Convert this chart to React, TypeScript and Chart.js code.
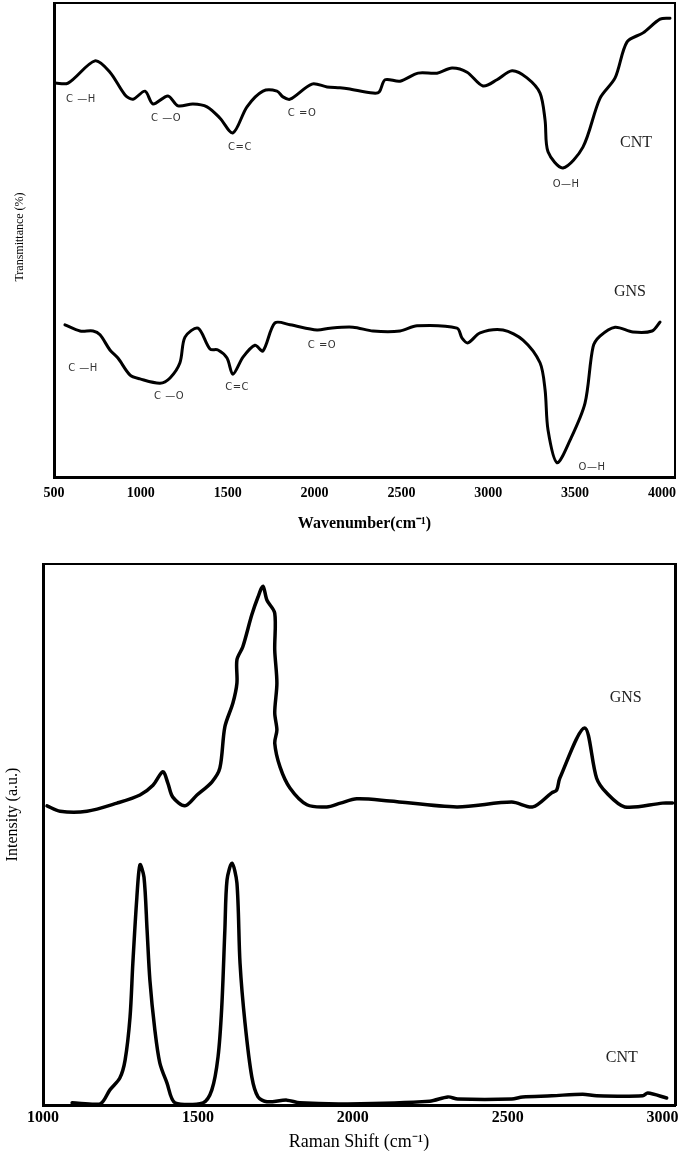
import React, { useEffect, useRef } from 'react';
import { Chart, registerables } from 'chart.js';

Chart.register(...registerables);

// ---------- FTIR (top) ----------
const ftirCntX = [506, 581, 736, 822, 909, 955, 1024, 1070, 1156, 1214, 1300, 1381, 1456, 1530, 1611, 1703, 1784, 1818, 1859, 1985, 2072, 2146, 2193, 2337, 2372, 2406, 2492, 2596, 2705, 2791, 2878, 2970, 3050, 3137, 3223, 3298, 3327, 3344, 3430, 3545, 3643, 3730, 3799, 3891, 3989, 4046];
const ftirCntY = [83.1, 83.1, 87.8, 85.4, 80.6, 79.7, 81.4, 78.7, 80.4, 78.3, 78.7, 78.1, 75.7, 72.6, 78.1, 81.4, 81.4, 80.2, 79.7, 82.9, 82.3, 82.1, 81.9, 81.0, 81.2, 83.8, 83.5, 85.2, 85.2, 86.3, 85.4, 82.5, 83.8, 85.7, 84.2, 81.0, 75.3, 68.6, 65.2, 69.6, 79.9, 84.2, 91.8, 93.7, 96.6, 96.8];

const ftirGnsX = [563, 650, 725, 765, 822, 868, 938, 995, 1110, 1168, 1225, 1254, 1329, 1398, 1444, 1496, 1530, 1588, 1657, 1703, 1772, 1859, 2014, 2089, 2221, 2337, 2492, 2590, 2820, 2849, 2883, 2953, 3085, 3200, 3298, 3327, 3344, 3396, 3471, 3557, 3603, 3643, 3730, 3833, 3943, 3989];
const ftirGnsY = [32.1, 30.8, 30.8, 30.0, 26.8, 25.1, 21.5, 20.7, 19.8, 20.9, 24.1, 29.5, 31.4, 27.0, 26.8, 25.1, 21.7, 25.3, 27.8, 26.6, 32.5, 32.1, 31.0, 31.4, 31.6, 30.8, 30.8, 31.9, 31.4, 29.3, 28.3, 30.4, 31.0, 28.9, 24.1, 18.4, 9.9, 3.0, 7.8, 15.6, 27.4, 29.7, 31.6, 30.6, 30.8, 32.7];

const ftirTickValues = [500, 1000, 1500, 2000, 2500, 3000, 3500, 4000];

const ftirBandText = ['C —H', 'C —O', 'C=C', 'C =O', 'O—H', 'C —H', 'C —O', 'C=C', 'C =O', 'O—H'];
const ftirBandX = [655, 1145, 1571, 1928, 3448, 667, 1162, 1554, 2043, 3597];
const ftirBandY = [79.7, 75.7, 69.6, 76.8, 61.8, 23.0, 16.9, 19.0, 27.8, 2.1];

const ftirSampleText = ['CNT', 'GNS'];
const ftirSampleX = [3851, 3816];
const ftirSampleY = [70.5, 39.0];

// ---------- Raman (bottom) ----------
const ramanGnsX = [1013, 1055, 1142, 1239, 1313, 1355, 1387, 1403, 1419, 1458, 1497, 1545, 1571, 1587, 1613, 1626, 1626, 1645, 1674, 1694, 1710, 1723, 1748, 1748, 1755, 1748, 1755, 1748, 1765, 1797, 1852, 1916, 1960, 2013, 2119, 2336, 2513, 2581, 2642, 2658, 2668, 2748, 2787, 2819, 2878, 3000, 3032];
const ramanGnsY = [55.3, 54.3, 54.3, 55.8, 57.3, 59.1, 61.6, 59.5, 56.9, 55.3, 57.3, 59.7, 62.3, 69.9, 74.3, 78.0, 82.3, 84.7, 90.6, 93.9, 95.9, 93.3, 90.9, 84.1, 78.0, 72.5, 69.3, 66.9, 62.5, 58.6, 55.5, 55.1, 55.8, 56.6, 56.2, 55.1, 56.0, 55.1, 57.7, 58.2, 60.4, 69.7, 60.4, 57.7, 55.1, 55.8, 55.8];

const ramanCntX = [1094, 1184, 1216, 1248, 1265, 1281, 1290, 1303, 1313, 1326, 1336, 1345, 1361, 1377, 1400, 1426, 1516, 1545, 1565, 1577, 1587, 1594, 1610, 1626, 1636, 1652, 1674, 1694, 1723, 1787, 1829, 1984, 2248, 2307, 2339, 2513, 2548, 2642, 2742, 2787, 2936, 2952, 3013];
const ramanCntY = [0.4, 0.2, 2.8, 5.0, 8.3, 16.3, 26.2, 38.4, 44.4, 42.1, 32.3, 23.1, 13.9, 7.8, 4.1, 0.4, 0.4, 2.8, 8.9, 18.1, 32.3, 41.6, 44.7, 41.0, 26.2, 15.2, 5.2, 1.5, 0.6, 0.9, 0.4, 0.2, 0.7, 1.5, 1.1, 1.1, 1.5, 1.7, 2.0, 1.7, 1.7, 2.2, 1.3];

const ramanTickValues = [1000, 1500, 2000, 2500, 3000];

const ramanSampleText = ['GNS', 'CNT'];
const ramanSampleX = [2881, 2868];
const ramanSampleY = [75.2, 8.7];

const SERIF = '"Liberation Serif", "Times New Roman", serif';

type Label = { text: string; x: number; y: number; font: string; color: string; spacing: string };

function zip(xs: number[], ys: number[]) {
  return xs.map((x, i) => ({ x, y: ys[i] }));
}

function makeLabels(texts: string[], xs: number[], ys: number[], font: string, color: string, spacing: string): Label[] {
  return texts.map((t, i) => ({ text: t, x: xs[i], y: ys[i], font, color, spacing }));
}

function textPlugin(labels: Label[]) {
  return {
    id: 'sampleText',
    afterDatasetsDraw(chart: any) {
      const { ctx, scales } = chart;
      ctx.save();
      for (const l of labels) {
        ctx.font = l.font;
        ctx.fillStyle = l.color;
        ctx.textAlign = 'center';
        ctx.textBaseline = 'middle';
        try { (ctx as any).letterSpacing = l.spacing; } catch (e) {}
        ctx.fillText(l.text, scales.x.getPixelForValue(l.x), scales.y.getPixelForValue(l.y));
      }
      ctx.restore();
    },
  };
}

function frameAxes(opts: {
  xMin: number; xMax: number; ticks: number[]; tickFont: any; tickPad: number;
  xTitle: string; xTitleFont: any; xTitlePad: number; xHeight: number;
  yTitle: string; yTitleFont: any; yTitlePad: number; yWidth: number;
  leftW: number; bottomW: number; topW: number; rightW: number;
}) {
  return {
    x: {
      type: 'linear', position: 'bottom', min: opts.xMin, max: opts.xMax,
      afterBuildTicks: (s: any) => { s.ticks = opts.ticks.map((v) => ({ value: v })); },
      ticks: { font: opts.tickFont, color: '#000', padding: opts.tickPad, maxRotation: 0, autoSkip: false, callback: (v: any) => String(v) },
      grid: { display: false, drawTicks: false },
      border: { display: true, color: '#000', width: opts.bottomW },
      title: { display: true, text: opts.xTitle, font: opts.xTitleFont, color: '#000', padding: { top: 0, bottom: opts.xTitlePad } },
      afterFit: (s: any) => { s.height = opts.xHeight; },
    },
    xTop: {
      type: 'linear', position: 'top', min: opts.xMin, max: opts.xMax,
      ticks: { display: false }, grid: { display: false, drawTicks: false },
      border: { display: true, color: '#000', width: opts.topW },
      afterFit: (s: any) => { s.height = 0; },
    },
    y: {
      type: 'linear', position: 'left', min: 0, max: 100,
      ticks: { display: false }, grid: { display: false, drawTicks: false },
      border: { display: true, color: '#000', width: opts.leftW },
      title: { display: true, text: opts.yTitle, font: opts.yTitleFont, color: '#000', padding: { top: opts.yTitlePad, bottom: 0 } },
      afterFit: (s: any) => { s.width = opts.yWidth; },
    },
    yRight: {
      type: 'linear', position: 'right', min: 0, max: 100,
      ticks: { display: false }, grid: { display: false, drawTicks: false },
      border: { display: true, color: '#000', width: opts.rightW },
      afterFit: (s: any) => { s.width = 0; },
    },
  };
}

function lineDataset(label: string, xs: number[], ys: number[], width: number) {
  return {
    label, data: zip(xs, ys), borderColor: '#000', borderWidth: width,
    pointRadius: 0, tension: 0.3, fill: false, borderCapStyle: 'round', borderJoinStyle: 'round',
  };
}

export default function App() {
  const topRef = useRef<HTMLCanvasElement>(null);
  const botRef = useRef<HTMLCanvasElement>(null);

  useEffect(() => {
    const bandFont = '10px "DejaVu Sans", sans-serif';
    const sampleFont = '16px ' + SERIF;
    const topLabels = [
      ...makeLabels(ftirBandText, ftirBandX, ftirBandY, bandFont, '#333', '0.5px'),
      ...makeLabels(ftirSampleText, ftirSampleX, ftirSampleY, sampleFont, '#222', '0px'),
    ];
    const top = new Chart(topRef.current as HTMLCanvasElement, {
      type: 'line',
      data: {
        datasets: [
          lineDataset('CNT', ftirCntX, ftirCntY, 3),
          lineDataset('GNS', ftirGnsX, ftirGnsY, 3),
        ],
      } as any,
      options: {
        responsive: false, animation: false, devicePixelRatio: 1,
        layout: { padding: { top: 3, right: 10, left: 0, bottom: 0 } },
        plugins: { legend: { display: false }, tooltip: { enabled: false } },
        scales: frameAxes({
          xMin: 500, xMax: 4075, ticks: ftirTickValues,
          tickFont: { family: SERIF, size: 14, weight: 'bold' }, tickPad: 8,
          xTitle: 'Wavenumber(cm⁻¹)', xTitleFont: { family: SERIF, size: 16, weight: 'bold' }, xTitlePad: 12, xHeight: 68,
          yTitle: '  Transmittance (%)', yTitleFont: { family: SERIF, size: 12 }, yTitlePad: 13, yWidth: 54,
          leftW: 3, bottomW: 3, topW: 2, rightW: 2,
        }) as any,
      },
      plugins: [textPlugin(topLabels)],
    } as any);

    const botLabels = makeLabels(ramanSampleText, ramanSampleX, ramanSampleY, sampleFont, '#222', '0px');
    const bot = new Chart(botRef.current as HTMLCanvasElement, {
      type: 'line',
      data: {
        datasets: [
          lineDataset('GNS', ramanGnsX, ramanGnsY, 3.5),
          lineDataset('CNT', ramanCntX, ramanCntY, 3.5),
        ],
      } as any,
      options: {
        responsive: false, animation: false, devicePixelRatio: 1,
        layout: { padding: { top: 19, right: 10, left: 0, bottom: 0 } },
        plugins: { legend: { display: false }, tooltip: { enabled: false } },
        scales: frameAxes({
          xMin: 1000, xMax: 3040, ticks: ramanTickValues,
          tickFont: { family: SERIF, size: 16, weight: 'bold' }, tickPad: 3,
          xTitle: 'Raman Shift (cm⁻¹)', xTitleFont: { family: SERIF, size: 18, lineHeight: 1 }, xTitlePad: 1, xHeight: 47,
          yTitle: '          Intensity (a.u.)', yTitleFont: { family: SERIF, size: 16 }, yTitlePad: 3, yWidth: 43,
          leftW: 3, bottomW: 3, topW: 2, rightW: 3,
        }) as any,
      },
      plugins: [textPlugin(botLabels)],
    } as any);

    return () => { top.destroy(); bot.destroy(); };
  }, []);

  return (
    <div style={{ position: 'absolute', left: 0, top: 0, width: 685, height: 1152, background: '#fff' }}>
      <canvas ref={topRef} width={685} height={545} style={{ display: 'block', width: 685, height: 545 }} />
      <canvas ref={botRef} width={685} height={607} style={{ display: 'block', width: 685, height: 607 }} />
    </div>
  );
}
